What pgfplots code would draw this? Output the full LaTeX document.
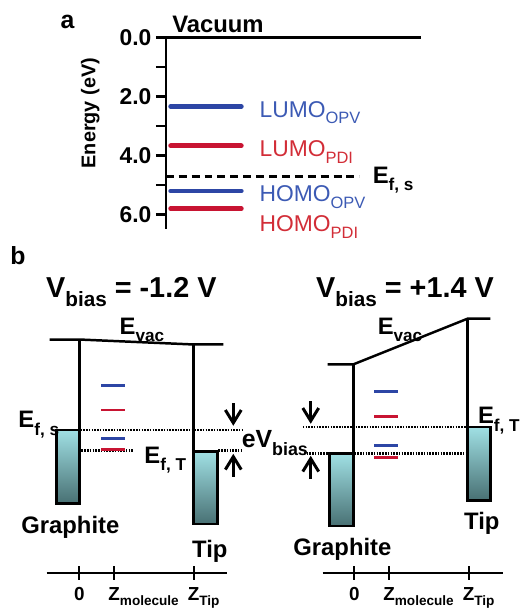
\documentclass[border=0pt]{standalone}
\usepackage{fontspec}
\setmainfont{Liberation Sans}
\usepackage{graphicx}
\usepackage{pgfplots}
\pgfplotsset{compat=1.18}
\definecolor{lblue}{RGB}{45,70,165}
\definecolor{lred}{RGB}{200,20,50}
\definecolor{tblue}{RGB}{60,90,180}
\definecolor{tred}{RGB}{210,45,55}
\definecolor{boxtop}{RGB}{160,224,228}
\definecolor{boxbot}{RGB}{72,112,115}
\newcommand{\fs}[1]{\fontsize{#1}{#1}\selectfont}
\newcommand{\sub}[1]{\raisebox{-0.3em}{\scalebox{0.72}{#1}}}
\pgfplotsset{dotl/.style={black, line width=2.5pt, dash pattern=on 1.6pt off 1.2pt},
  arr/.style={black, line width=3pt, line join=miter}}
\begin{document}
\begin{tikzpicture}
% ---------- canvas (pixel coordinates) ----------
\begin{axis}[name=canvas, at={(0pt,0pt)}, anchor=south west, scale only axis,
  width=520pt, height=612pt, xmin=0, xmax=520, ymin=0, ymax=612, y dir=reverse,
  hide axis, clip=false]
\addplot[draw=none] coordinates {(0,0) (520,612)};
% left diagram (Vbias = -1.2 V)
\addplot[black, line width=2.5pt] coordinates {(50,342)(80,342)(195,347)(225,347)};
\addplot[black, line width=2.5pt] coordinates {(80,342)(80,433)};
\addplot[black, line width=2.5pt] coordinates {(195,347)(195,455)};
\addplot[draw=black, line width=2.5pt, top color=boxtop, bottom color=boxbot] coordinates {(57,433)(80,433)(80,507)(57,507)} -- cycle;
\addplot[draw=black, line width=2.5pt, top color=boxtop, bottom color=boxbot] coordinates {(195,455)(219,455)(219,528)(195,528)} -- cycle;
\addplot[dotl] coordinates {(81,433)(245,433)};
\addplot[dotl] coordinates {(82,454)(135,454)};
\addplot[dotl] coordinates {(220,454)(245,454)};
\addplot[lblue, line width=3pt] coordinates {(102,388)(126,388)};
\addplot[lred, line width=3pt] coordinates {(102,413)(126,413)};
\addplot[lblue, line width=3pt] coordinates {(102,442)(126,442)};
\addplot[lred, line width=3pt] coordinates {(102,453)(126,453)};
% eVbias arrows (left)
\addplot[arr] coordinates {(235,406)(235,426)};
\addplot[arr] coordinates {(227,413)(235,426)(243,413)};
\addplot[arr] coordinates {(235,480)(235,460)};
\addplot[arr] coordinates {(227,473)(235,460)(243,473)};
% right diagram (Vbias = +1.4 V)
\addplot[black, line width=2.5pt] coordinates {(330,367)(356,367)(471,321)(494,321)};
\addplot[black, line width=2.5pt] coordinates {(356,367)(356,457)};
\addplot[black, line width=2.5pt] coordinates {(471,321)(471,430)};
\addplot[draw=black, line width=2.5pt, top color=boxtop, bottom color=boxbot] coordinates {(332,457)(356,457)(356,530)(332,530)} -- cycle;
\addplot[draw=black, line width=2.5pt, top color=boxtop, bottom color=boxbot] coordinates {(471,430)(494,430)(494,504)(471,504)} -- cycle;
\addplot[dotl] coordinates {(305,430)(470,430)};
\addplot[dotl] coordinates {(306,457)(331,457)};
\addplot[dotl] coordinates {(357,457)(470,457)};
\addplot[lblue, line width=3pt] coordinates {(377,394)(401,394)};
\addplot[lred, line width=3pt] coordinates {(377,420)(401,420)};
\addplot[lblue, line width=3pt] coordinates {(377,449)(401,449)};
\addplot[lred, line width=3pt] coordinates {(377,461)(401,461)};
% eVbias arrows (right)
\addplot[arr] coordinates {(313,404)(313,424)};
\addplot[arr] coordinates {(305,411)(313,424)(321,411)};
\addplot[arr] coordinates {(313,482)(313,462)};
\addplot[arr] coordinates {(305,475)(313,462)(321,475)};
% texts
\node[font=\bfseries\fs{25}] at (axis cs:68,22) {a};
\node[anchor=base west, font=\bfseries\fs{24}] at (axis cs:170,33) {Vacuum};
\node[rotate=90, font=\bfseries\fs{20}] at (axis cs:91,114) {Energy (eV)};
\node[font=\bfseries\fs{25}] at (axis cs:18,258) {b};
\node[anchor=base west, font=\bfseries\fs{29}] at (axis cs:43,300) {V\sub{bias} = -1.2 V};
\node[anchor=base west, font=\bfseries\fs{29}] at (axis cs:315,300) {V\sub{bias} = +1.4 V};
\node[anchor=base west, font=\bfseries\fs{24}] at (axis cs:117,337) {E\sub{vac}};
\node[anchor=base west, font=\bfseries\fs{24}] at (axis cs:377,337) {E\sub{vac}};
\node[anchor=base west, font=\bfseries\fs{24}] at (axis cs:15,431) {E\sub{f, s}};
\node[anchor=base west, font=\bfseries\fs{24}] at (axis cs:142,467) {E\sub{f, T}};
\node[anchor=base west, font=\bfseries\fs{24}] at (axis cs:478,427) {E\sub{f, T}};
\node[anchor=base west, font=\bfseries\fs{25}] at (axis cs:240,451) {eV\sub{bias}};
\node[anchor=base west, font=\bfseries\fs{24}] at (axis cs:18,537) {Graphite};
\node[anchor=base west, font=\bfseries\fs{24}] at (axis cs:190,562) {Tip};
\node[anchor=base west, font=\bfseries\fs{24}] at (axis cs:292,560) {Graphite};
\node[anchor=base west, font=\bfseries\fs{24}] at (axis cs:464,533) {Tip};
\end{axis}
% ---------- panel a ----------
\begin{axis}[at={(167pt,381pt)}, anchor=south west, scale only axis,
  width=257pt, height=193pt, xmin=0, xmax=257, ymin=0, ymax=6.5, y dir=reverse,
  axis y line*=left, hide x axis, clip=false,
  ytick={0,2,4,6}, yticklabels={0.0,2.0,4.0,6.0}, minor ytick={1,3,5},
  tick align=outside, major tick length=10pt, minor tick length=10pt,
  every tick/.style={black, line width=2.5pt},
  axis line style={line width=2.5pt},
  yticklabel style={font=\bfseries\fs{23}, xshift=-1pt}]
\addplot[black, line width=3pt] coordinates {(0,0)(257,0)};
\addplot[lblue, line width=5pt, line cap=round] coordinates {(5,2.33)(76,2.33)};
\addplot[lred, line width=5pt, line cap=round] coordinates {(5,3.67)(76,3.67)};
\addplot[lblue, line width=5pt, line cap=round] coordinates {(5,5.2)(76,5.2)};
\addplot[lred, line width=5pt, line cap=round] coordinates {(5,5.8)(76,5.8)};
\addplot[black, line width=2.5pt, dash pattern=on 8pt off 5pt] coordinates {(0,4.7)(195,4.7)};
\node[anchor=base west, tblue, font=\fs{23}] at (axis cs:91,2.69) {LUMO\sub{OPV}};
\node[anchor=base west, tred, font=\fs{23}] at (axis cs:91,4.04) {LUMO\sub{PDI}};
\node[anchor=base west, tblue, font=\fs{23}] at (axis cs:91,5.56) {HOMO\sub{OPV}};
\node[anchor=base west, tred, font=\fs{23}] at (axis cs:91,6.57) {HOMO\sub{PDI}};
\node[anchor=base west, font=\bfseries\fs{24}] at (axis cs:205,4.95) {E\sub{f, s}};
\end{axis}
% ---------- z axes ----------
\begin{axis}[at={(47pt,35pt)}, anchor=south west, scale only axis,
  width=182pt, height=10pt, xmin=47, xmax=229, ymin=0, ymax=1,
  axis x line*=bottom, hide y axis,
  xtick={80,115,195}, xticklabels={0, Z\rlap{\sub{molecule}}, Z\rlap{\sub{Tip}}},
  tick align=center, major tick length=14pt,
  every tick/.style={black, line width=2pt}, axis line style={line width=2pt},
  xticklabel style={font=\bfseries\fs{19}, anchor=north, yshift=-4pt}]
\end{axis}
\begin{axis}[at={(325pt,35pt)}, anchor=south west, scale only axis,
  width=182pt, height=10pt, xmin=325, xmax=507, ymin=0, ymax=1,
  axis x line*=bottom, hide y axis,
  xtick={357,392,472}, xticklabels={0, Z\rlap{\sub{molecule}}, Z\rlap{\sub{Tip}}},
  tick align=center, major tick length=14pt,
  every tick/.style={black, line width=2pt}, axis line style={line width=2pt},
  xticklabel style={font=\bfseries\fs{19}, anchor=north, yshift=-4pt}]
\end{axis}
\end{tikzpicture}
\end{document}
